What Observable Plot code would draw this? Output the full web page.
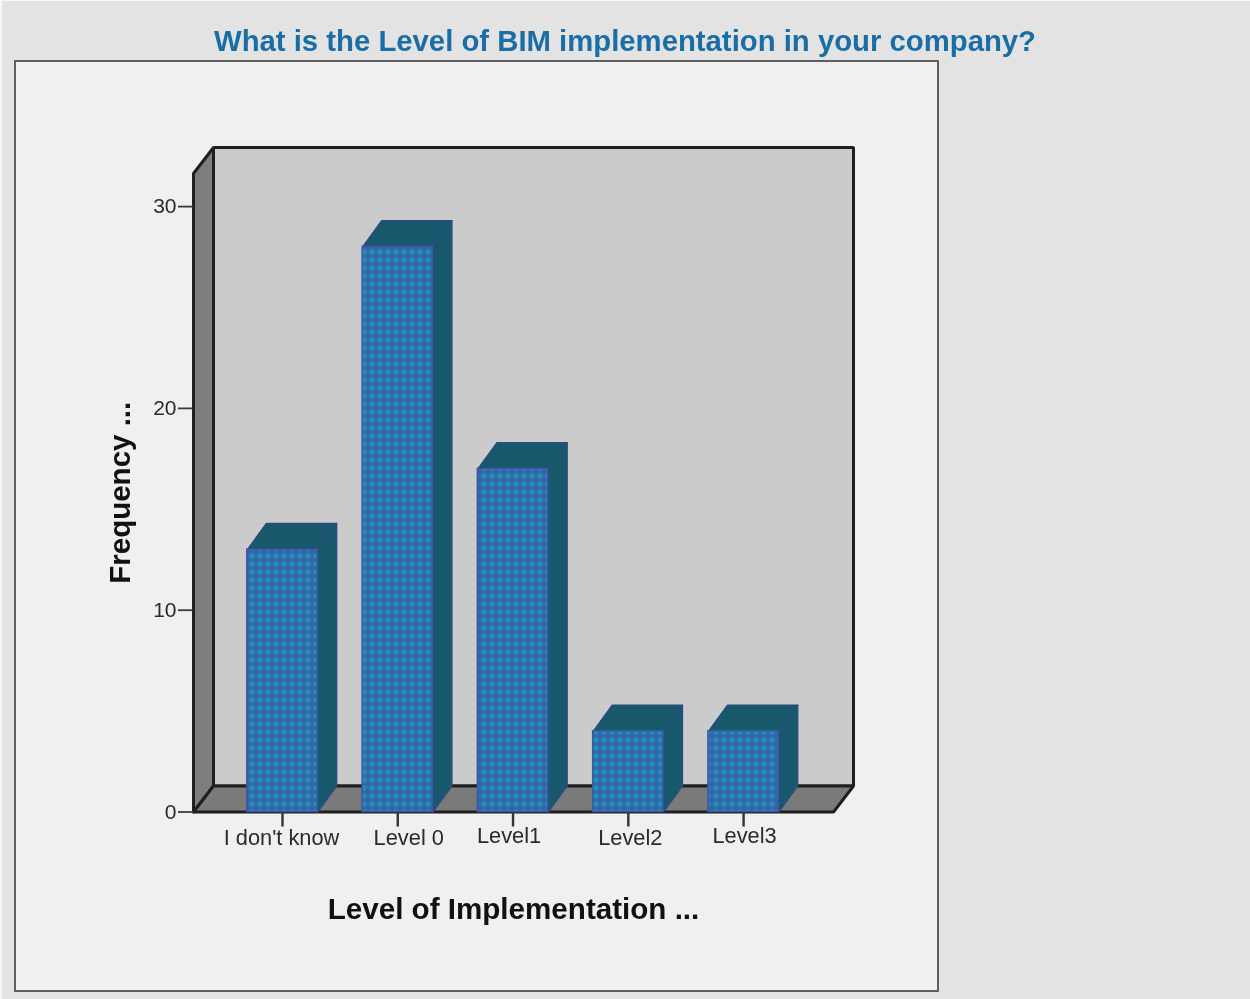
<!DOCTYPE html>
<html>
<head>
<meta charset="utf-8">
<script src="https://cdn.jsdelivr.net/npm/d3@7"></script>
<script src="https://cdn.jsdelivr.net/npm/@observablehq/plot@0.6"></script>
<style>
  html, body { margin: 0; padding: 0; background: #e3e3e3; width: 1250px; height: 999px; overflow: hidden; }
  #edge { position: absolute; left: 0; top: 0; width: 1250px; height: 999px; box-sizing: border-box; border-left: 2px solid #f7f7f7; border-top: 1px solid #f7f7f7; }
  #panel { position: absolute; left: 14px; top: 60px; width: 925px; height: 932px; box-sizing: border-box; background: #f0f0f0; border: 2.5px solid #5f5f5f; filter: blur(0.6px); }
  #title { position: absolute; left: 0; width: 1250px; top: 23px; text-align: center; font: bold 29.3px "Liberation Sans", Arial, sans-serif; color: #1a6ea6; white-space: nowrap; filter: blur(0.5px); line-height: 36px; }
  #chart { position: absolute; left: 0; top: 0; filter: blur(0.55px); }
</style>
</head>
<body>
<div id="edge"></div>
<div id="panel"></div>
<div id="title">What is the Level of BIM implementation in your company?</div>
<div id="chart"></div>
<script>
const categories = ["I don't know", "Level 0", "Level1", "Level2", "Level3"];
const frequencies = [13, 28, 17, 4, 4];
const yTicks = [0, 10, 20, 30];

// Label nudges seen in the reference (pixels)
const labelNudgeX = [-1, 11, -4, 2, 1];
const labelNudgeY = [0, 0, -2, 0, -2];

// 3-D extrusion and chart extents, in scale units
const barHalf = 0.305, depthX = 0.1735, depthY = 1.29, barDepthX = 0.165, barDepthY = 1.3;
const xMin = -0.772, xMax = 4.78, yMax = 31.64;

const poly = (id, pts) => [...pts, pts[0]].map(([x, y]) => ({ id, x, y }));

const leftWall = poly("left", [[xMin, 0], [xMin + depthX, depthY], [xMin + depthX, yMax + depthY], [xMin, yMax]]);
const backWall = poly("back", [[xMin + depthX, depthY], [xMax + depthX, depthY], [xMax + depthX, yMax + depthY], [xMin + depthX, yMax + depthY]]);
const floor = poly("floor", [[xMin, 0], [xMax, 0], [xMax + depthX, depthY], [xMin + depthX, depthY]]);

const bars = frequencies.map((v, i) => ({ i, v, x1: i - barHalf, x2: i + barHalf }));
const topFaces = bars.flatMap(b => poly("t" + b.i, [[b.x1, b.v], [b.x2, b.v], [b.x2 + barDepthX, b.v + barDepthY], [b.x1 + barDepthX, b.v + barDepthY]]));
const sideFaces = bars.flatMap(b => poly("s" + b.i, [[b.x2, 0], [b.x2 + barDepthX, barDepthY], [b.x2 + barDepthX, b.v + barDepthY], [b.x2, b.v]]));

const wallStroke = "#1f1f1f";
const plot = Plot.plot({
  width: 1250,
  height: 999,
  marginLeft: 193,
  marginRight: 417,
  marginTop: 173,
  marginBottom: 187.5,
  x: { domain: [xMin, xMax] },
  y: { domain: [0, yMax] },
  style: { background: "transparent", overflow: "visible", fontFamily: "'Liberation Sans', Arial, sans-serif" },
  marks: [
    Plot.line(backWall, { x: "x", y: "y", z: "id", fill: "#cbcbcb", stroke: wallStroke, strokeWidth: 3, strokeLinejoin: "miter" }),
    Plot.line(leftWall, { x: "x", y: "y", z: "id", fill: "#7d7d7d", stroke: wallStroke, strokeWidth: 3, strokeLinejoin: "miter" }),
    Plot.line(floor, { x: "x", y: "y", z: "id", fill: "#7a7a7a", stroke: wallStroke, strokeWidth: 3, strokeLinejoin: "miter" }),
    Plot.axisY(yTicks, { tickSize: 15, tickPadding: 2, fontSize: 21, stroke: "#3a3a3a", color: "#2a2a2a", strokeWidth: 1.8, label: null, tickFormat: d => d }),
    Plot.axisX(categories.map((c, i) => i), { tickSize: 15, tickFormat: () => "", stroke: "#333", strokeWidth: 2.4, label: null }),
    ...categories.map((c, i) => Plot.axisX([i], {
      tickSize: 0, tickPadding: 18, fontSize: 21.8, tickFormat: () => c, color: "#2a2a2a", label: null,
      dx: labelNudgeX[i], dy: labelNudgeY[i]
    })),
    Plot.line(sideFaces, { x: "x", y: "y", z: "id", fill: "#17586b", stroke: "#2d4a86", strokeWidth: 1.3, strokeLinejoin: "round" }),
    Plot.line(topFaces, { x: "x", y: "y", z: "id", fill: "#17586b", stroke: "#2d4a86", strokeWidth: 1.3, strokeLinejoin: "round" }),
    Plot.rect(bars, { x1: "x1", x2: "x2", y1: 0, y2: "v", fill: "url(#dots)", stroke: "#3a57a4", strokeWidth: 1.5 }),
    Plot.text(["Frequency ..."], { text: d => d, frameAnchor: "left", rotate: -90, dx: -73, textAnchor: "middle", fontSize: 29.5, fontWeight: "bold", fill: "#111" }),
    Plot.text(["Level of Implementation ..."], { text: d => d, frameAnchor: "bottom", dy: 106.5, fontSize: 29.6, fontWeight: "bold", fill: "#111" })
  ]
});

plot.insertAdjacentHTML("afterbegin",
  '<defs><radialGradient id="dotGrad"><stop offset="0" stop-color="#1a98b0"/><stop offset="0.6" stop-color="#2088b0"/><stop offset="1" stop-color="#3a5fab"/></radialGradient>' +
  '<pattern id="dots" patternUnits="userSpaceOnUse" width="8" height="8" x="0" y="0">' +
  '<rect width="8" height="8" fill="#3a5fab"/>' +
  '<circle cx="4" cy="4" r="3.9" fill="url(#dotGrad)"/></pattern></defs>');
document.getElementById("chart").appendChild(plot);
</script>
</body>
</html>
